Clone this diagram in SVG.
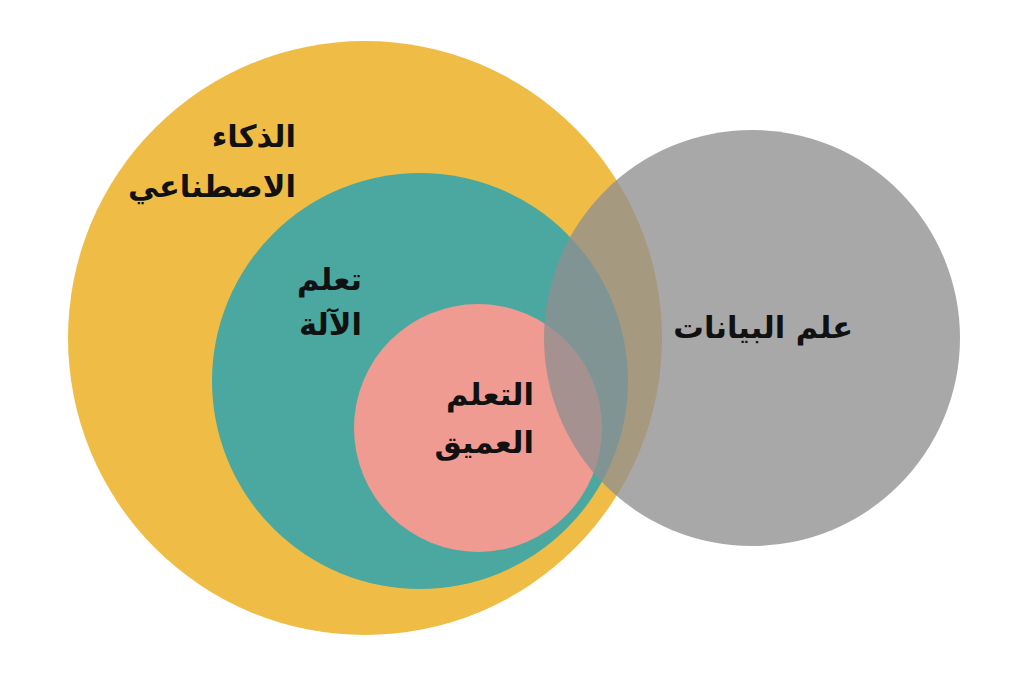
<svg xmlns="http://www.w3.org/2000/svg" width="1024" height="673" viewBox="0 0 1024 673">
<style>
.lbl{font-family:"DejaVu Sans","Noto Sans",sans-serif;font-weight:bold;font-size:30.5px;fill:#111;direction:rtl;unicode-bidi:embed;text-anchor:start}
</style>
<rect width="1024" height="673" fill="#ffffff"/>
<g id="ai"><circle cx="365" cy="338" r="297" fill="#efbd45"/></g>
<g id="ml"><circle cx="420" cy="381" r="208" fill="#4aa8a0"/></g>
<g id="dl"><circle cx="478" cy="428" r="124" fill="#ef9b91"/></g>
<g id="ds"><circle cx="752" cy="338" r="208" fill="#909090" fill-opacity="0.78"/></g>
<g id="labels">
<text class="lbl" x="296" y="147">الذكاء</text>
<text class="lbl" x="296" y="197">الاصطناعي</text>
<text class="lbl" x="362" y="290">تعلم</text>
<text class="lbl" x="362" y="335">الآلة</text>
<text class="lbl" x="534" y="405">التعلم</text>
<text class="lbl" x="534" y="453">العميق</text>
<text class="lbl" x="853" y="338">علم البيانات</text>
</g>
<g id="connectors"/>
</svg>
